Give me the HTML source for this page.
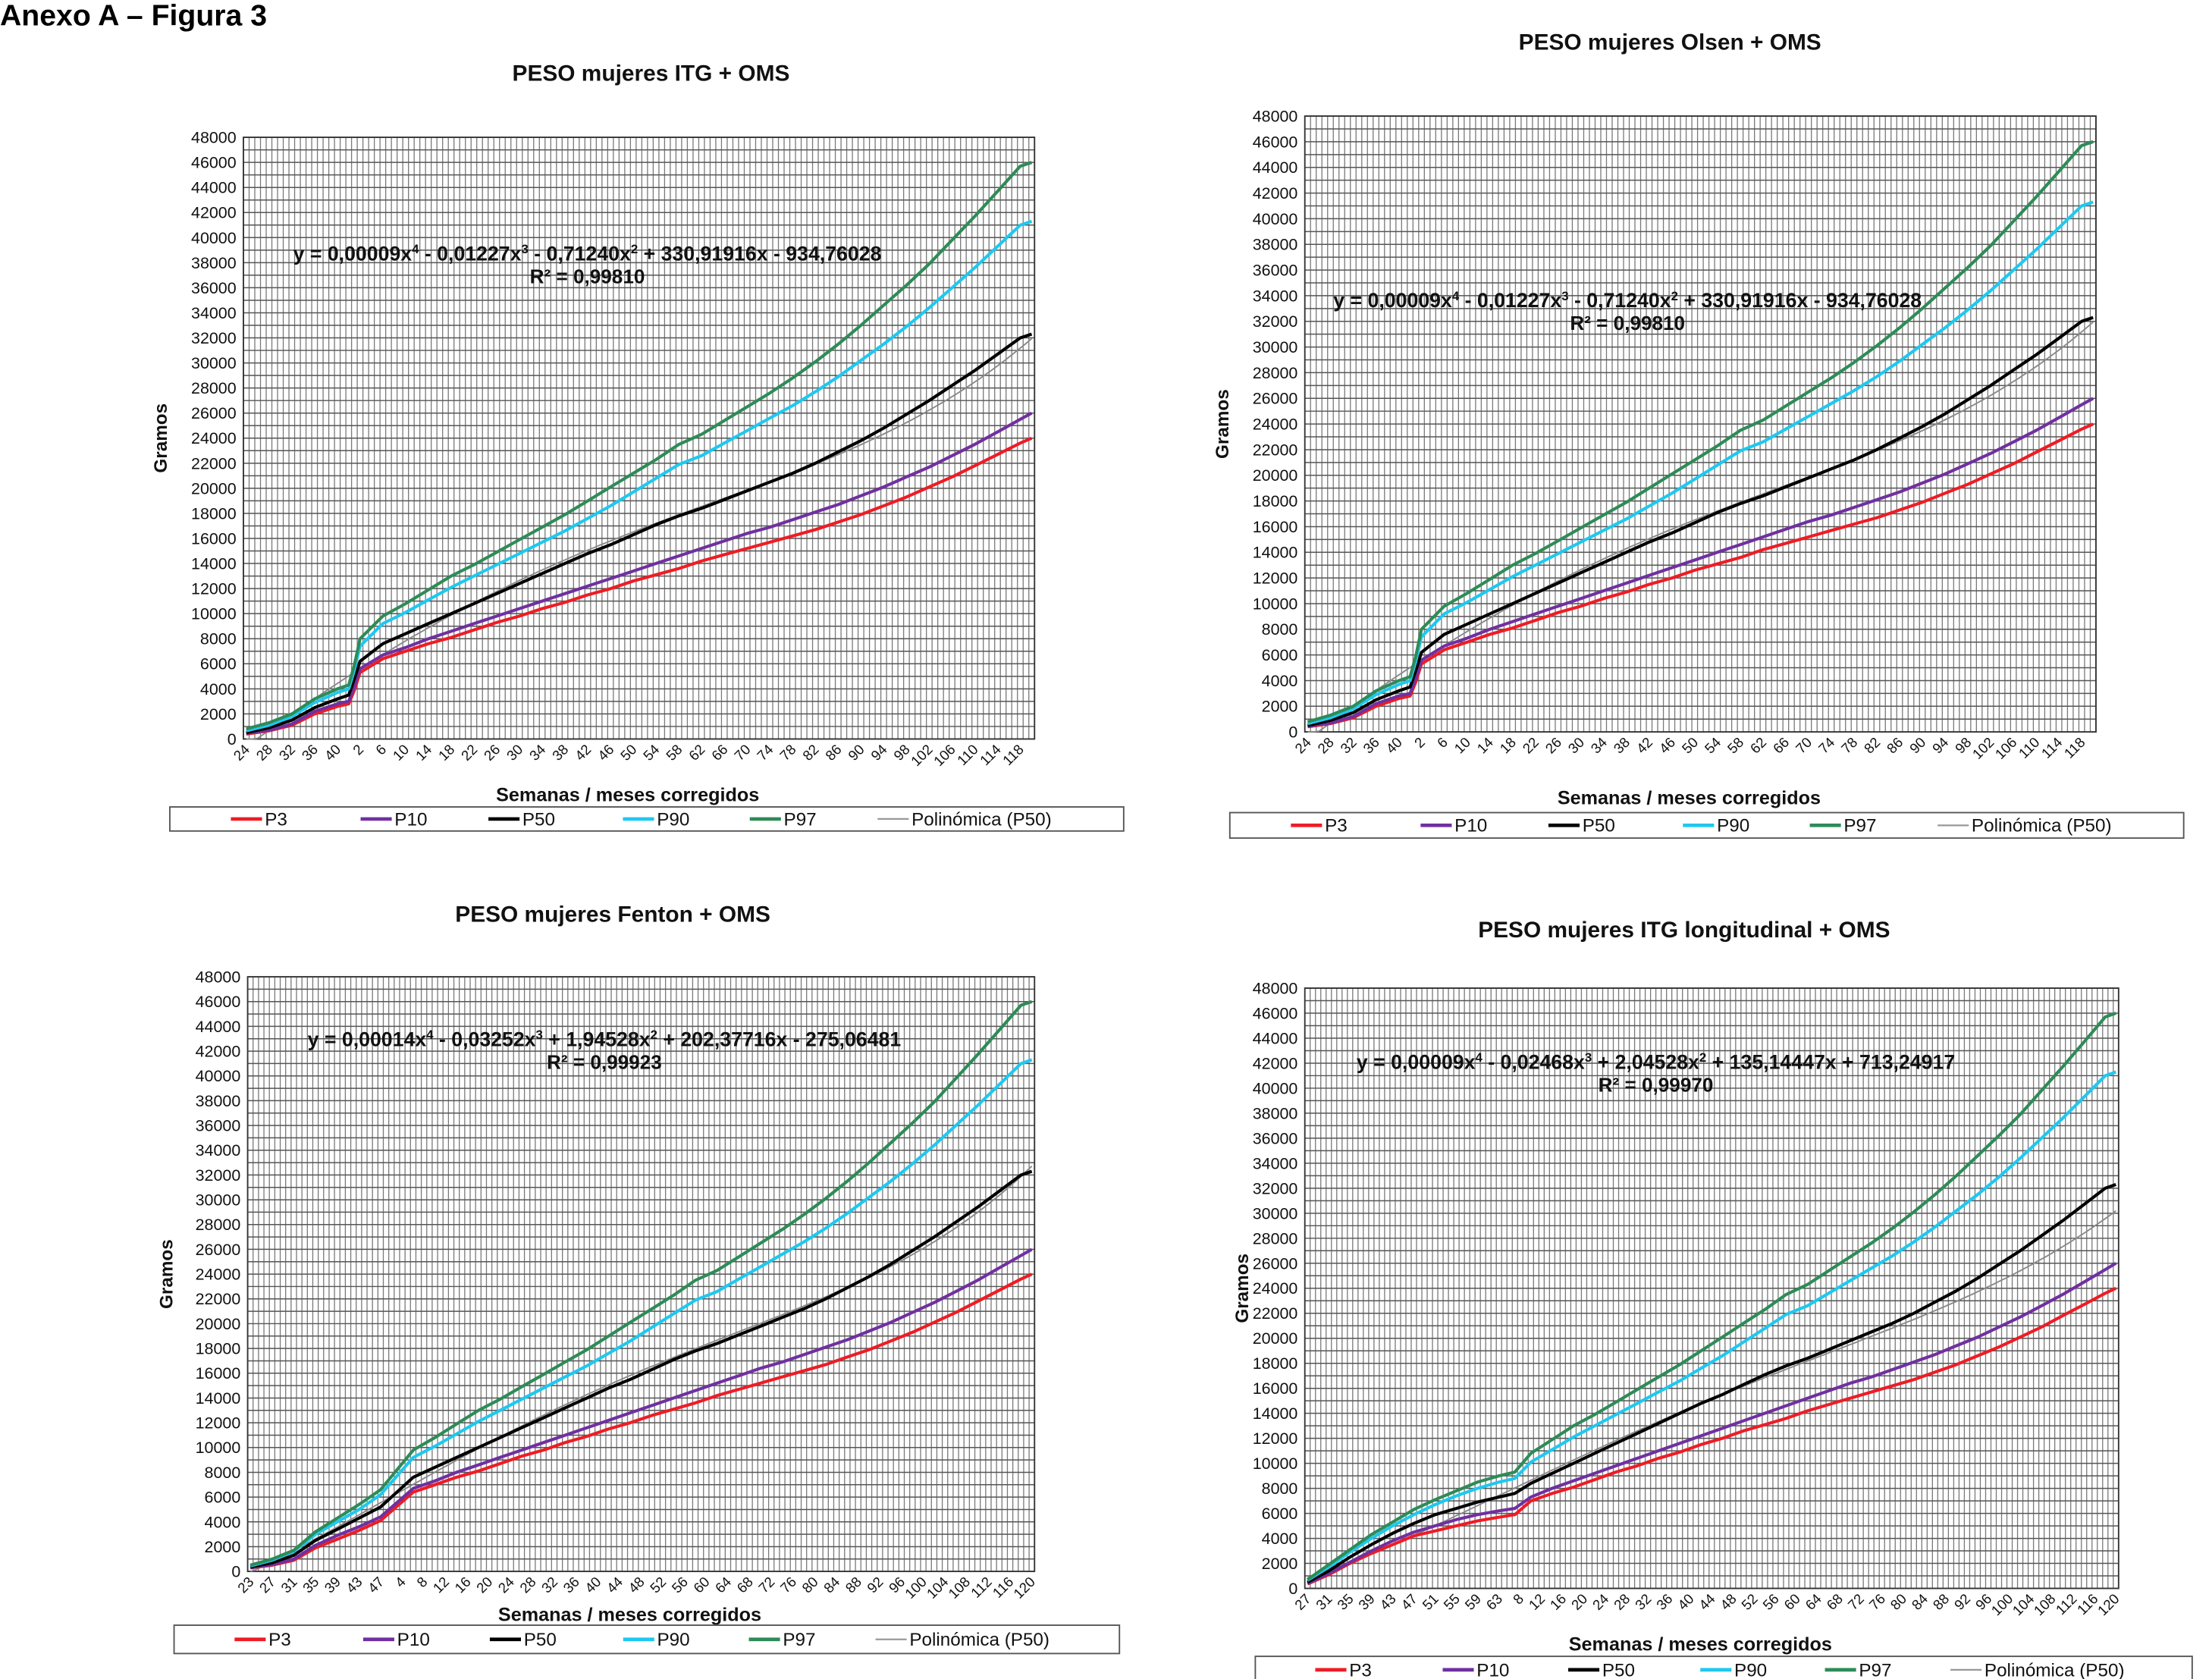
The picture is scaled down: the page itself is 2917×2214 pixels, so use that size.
<!DOCTYPE html>
<html><head><meta charset="utf-8"><style>
html,body{margin:0;padding:0;background:#fff}
svg{display:block}
text{font-family:"Liberation Sans",Arial,sans-serif}
</style></head><body>
<svg id="root" xmlns="http://www.w3.org/2000/svg" width="2917" height="2214" viewBox="0 0 1563 1186" preserveAspectRatio="none">
<rect width="1563" height="1186" fill="#fff"/>
<text x="0" y="18" font-size="21" font-weight="bold" fill="#000">Anexo A – Figura 3</text>
</svg>
<script>
// Shared WHO month data (months and values)
const monthKeys=[1,2,6,10,14,18,22,26,30,34,38,42,46,50,54,58,62,66,70,74,78,82,86,90,94,98,102,106,110,114,118,120];
const p3Months=[3900,5300,6400,7000,7600,8100,8700,9300,9800,10400,10900,11500,12000,12600,13100,13600,14200,14700,15200,15700,16200,16700,17300,17900,18600,19300,20100,20900,21800,22700,23600,24000];
const p10Months=[4200,5600,6700,7300,8000,8600,9200,9800,10400,11000,11600,12200,12800,13400,14000,14600,15200,15800,16400,16900,17500,18100,18700,19400,20100,20900,21700,22600,23500,24500,25500,26000];
const p50Months=[4800,6200,7600,8400,9200,10000,10800,11600,12400,13200,14000,14800,15500,16300,17100,17800,18400,19100,19800,20500,21200,22000,22900,23800,24800,25900,27000,28200,29400,30700,32000,32300];
const p90Months=[5500,7400,9200,10100,11100,12100,13000,13900,14800,15700,16600,17600,18600,19700,20800,21900,22600,23600,24600,25600,26600,27700,28900,30200,31500,32900,34400,36000,37600,39300,41000,41300];
const p97Months=[5900,8000,9800,10800,11900,13000,13900,14900,15900,16900,17900,19000,20100,21200,22300,23500,24300,25400,26500,27600,28800,30100,31500,33000,34600,36200,37900,39800,41700,43700,45700,46000];

// Chart 1 & 2 (ITG / Olsen) weeks 24..42
const itgWeeks=[24,28,32,36,40,42];
const itgP3=[400,650,1100,2000,2600,2800];
const itgP10=[450,700,1200,2200,2800,3000];
const itgP50=[500,900,1500,2500,3200,3500];
const itgP90=[650,1100,1800,2900,3700,4000];
const itgP97=[800,1300,2000,3200,4000,4300];
const itgPoly=[0.00009,-0.01227,-0.71240,330.91916,-934.76028];

// Chart 3 (Fenton) weeks 23..47
const fentonWeeks=[23,27,31,35,39,43,47];
const fentonP3=[280,500,900,1900,2600,3300,4100];
const fentonP10=[300,550,1000,2100,2900,3600,4400];
const fentonP50=[350,700,1300,2500,3400,4300,5200];
const fentonP90=[450,900,1600,3000,4000,5000,6200];
const fentonP97=[500,1000,1700,3200,4300,5400,6600];
const fentonPoly=[0.00014,-0.03252,1.94528,202.37716,-275.06481];

// Chart 4 (ITG longitudinal) weeks 27..66
const longWeeks=[27,31,35,39,43,47,51,55,59,63,66];
const longP3=[350,1100,2000,2800,3500,4200,4600,5000,5400,5700,5900];
const longP10=[400,1200,2100,3000,3800,4500,5000,5500,5900,6200,6400];
const longP50=[500,1400,2500,3500,4400,5200,5900,6400,6900,7300,7600];
const longP90=[650,1700,2900,4000,5000,5900,6700,7400,8000,8500,8800];
const longP97=[700,1900,3100,4300,5300,6300,7100,7800,8500,9000,9300];
const longPoly=[0.00009,-0.02468,2.04528,135.14447,713.24917];

const yTicks=[0,2000,4000,6000,8000,10000,12000,14000,16000,18000,20000,22000,24000,26000,28000,30000,32000,34000,36000,38000,40000,42000,44000,46000,48000];
const legendLabels=['P3','P10','P50','P90','P97','Polinómica (P50)'];
const colors=['#ee1c25','#7030a0','#000000','#1ec8f0','#2e8b57','#999999'];

const NS='http://www.w3.org/2000/svg';
const root=document.getElementById('root');
function mk(tag,attrs,parent){const e=document.createElementNS(NS,tag);for(const k in attrs)e.setAttribute(k,attrs[k]);(parent||root).appendChild(e);return e;}

function drawChart(c){
  const g=mk('g',{});
  
  
  const P=c.plot;
  const nCat=c.nWeeks+(120-c.monthStart+1);
  const xs=i=>P.x0+(i+0.5)*(P.x1-P.x0)/nCat;
  const ys=v=>P.y1-v/48000*(P.y1-P.y0);
  const wIdx=w=>w-c.firstWeek;
  const mIdx=m=>c.nWeeks+m-c.monthStart;
  const t=mk('text',{x:c.title[0],y:c.title[1],'text-anchor':'middle','font-size':16,'font-weight':'bold',fill:'#111'},g);
  t.textContent=c.titleText;
  
  
  const bg=mk('rect',{x:P.x0,y:P.y0,width:P.x1-P.x0,height:P.y1-P.y0,fill:'#fff',stroke:'none'},g);
  
  
  let d='';
  for(let i=0;i<=nCat;i++){const x=P.x0+i*(P.x1-P.x0)/nCat;d+='M'+x.toFixed(2)+' '+P.y0+'V'+P.y1;}
  const vg=mk('path',{d:d,stroke:'#7a7a7a','stroke-width':0.7,fill:'none'},g);
  
  
  d='';
  for(let v=0;v<=48000;v+=1000){const y=ys(v);d+='M'+P.x0+' '+y.toFixed(2)+'H'+P.x1;}
  const hg=mk('path',{d:d,stroke:'#555','stroke-width':0.8,fill:'none'},g);
  
  
  const bd=mk('rect',{x:P.x0,y:P.y0,width:P.x1-P.x0,height:P.y1-P.y0,fill:'none',stroke:'#333','stroke-width':1},g);
  
  
  yTicks.forEach(v=>{
    const tt=mk('text',{x:P.x0-5,y:ys(v)+4,'text-anchor':'end','font-size':11.5,fill:'#111'},g);
    tt.textContent=v;
    
    
  });
  for(let i=0;i<nCat;i+=4){
    const lab=i<c.nWeeks?(c.firstWeek+i):(c.monthStart+i-c.nWeeks);
    const x=xs(i)+3,y=P.y1+8;
    const tt=mk('text',{x:x,y:y,'text-anchor':'end','font-size':10,fill:'#111',transform:'rotate(-45 '+x+' '+y+')'},g);
    tt.textContent=lab;
    
    
  }
  const yl=mk('text',{x:c.ylab,y:(P.y0+P.y1)/2,'text-anchor':'middle','font-size':13,'font-weight':'bold',fill:'#111',transform:'rotate(-90 '+c.ylab+' '+(P.y0+P.y1)/2+')'},g);
  yl.textContent='Gramos';
  
  
  const xl=mk('text',{x:(P.x0+P.x1)/2-8,y:c.xtitle,'text-anchor':'middle','font-size':13.5,'font-weight':'bold',fill:'#111'},g);
  xl.textContent='Semanas / meses corregidos';
  
  
  // polynomial trend (under series)
  const pp=[];
  for(let i=0;i<nCat;i++){const x=i+1;const cf=c.poly;const v=cf[0]*x**4+cf[1]*x**3+cf[2]*x**2+cf[3]*x+cf[4];pp.push(xs(i).toFixed(1)+','+ys(Math.max(v,0)).toFixed(1));}
  const tr=mk('polyline',{points:pp.join(' '),fill:'none',stroke:'#888','stroke-width':1},g);
  
  
  const names=['p3','p10','p50','p90','p97'];
  const monthSets=[p3Months,p10Months,p50Months,p90Months,p97Months];
  c.series.forEach((wv,s)=>{
    const pts=[];
    c.weeks.forEach((w,k)=>pts.push([xs(wIdx(w)),ys(wv[k])]));
    monthKeys.forEach((m,k)=>{if(m>=c.monthStart&&m>=c.minMonth)pts.push([xs(mIdx(m)),ys(monthSets[s][k])]);});
    const pl=mk('polyline',{points:pts.map(p=>p[0].toFixed(1)+','+p[1].toFixed(1)).join(' '),fill:'none',stroke:colors[s],'stroke-width':2.2,'stroke-linejoin':'round'},g);
    
    
  });
  const e1=mk('text',{x:c.eq[0],y:c.eq[1],'text-anchor':'middle','font-size':14.3,'font-weight':'bold',fill:'#111'},g);
  e1.innerHTML=c.eqText;
  
  
  const e2=mk('text',{x:c.eq[0],y:c.eq[1]+16,'text-anchor':'middle','font-size':14,'font-weight':'bold',fill:'#111'},g);
  e2.textContent=c.r2;
  
  
  const L=c.legend;
  const lb=mk('rect',{x:L[0],y:L[1],width:L[2],height:L[3],fill:'#fff',stroke:'#555','stroke-width':1},g);
  
  
  const fr=[0.064,0.2,0.334,0.475,0.608,0.742];
  legendLabels.forEach((lab,k)=>{
    const lx=L[0]+fr[k]*L[2],ly=L[1]+L[3]/2;
    const ln=mk('line',{x1:lx,y1:ly,x2:lx+22,y2:ly,stroke:colors[k],'stroke-width':k===5?1.2:2.5},g);
    
    
    const lt=mk('text',{x:lx+24,y:ly+4.5,'font-size':13,fill:'#111'},g);
    lt.textContent=lab;
    
    
  });
}
const eqITG='y = 0,00009x<tspan dy="-5" font-size="9">4</tspan><tspan dy="5"> - 0,01227x</tspan><tspan dy="-5" font-size="9">3</tspan><tspan dy="5"> - 0,71240x</tspan><tspan dy="-5" font-size="9">2</tspan><tspan dy="5"> + 330,91916x - 934,76028</tspan>';
drawChart({name:'chart-itg',titleText:'PESO mujeres ITG + OMS',title:[460,57],plot:{x0:172,x1:731,y0:97,y1:522},ylab:118,xtitle:566,legend:[120,570,674,17],eq:[415,184],eqText:eqITG,r2:'R² = 0,99810',nWeeks:19,firstWeek:24,monthStart:1,minMonth:1,weeks:itgWeeks,series:[itgP3,itgP10,itgP50,itgP90,itgP97],poly:itgPoly});
drawChart({name:'chart-olsen',titleText:'PESO mujeres Olsen + OMS',title:[1180,35],plot:{x0:922,x1:1481,y0:82,y1:517},ylab:868,xtitle:568,legend:[869,574,674,18],eq:[1150,217],eqText:eqITG,r2:'R² = 0,99810',nWeeks:19,firstWeek:24,monthStart:1,minMonth:1,weeks:itgWeeks,series:[itgP3,itgP10,itgP50,itgP90,itgP97],poly:itgPoly});
drawChart({name:'chart-fenton',titleText:'PESO mujeres Fenton + OMS',title:[433,651],plot:{x0:175,x1:731,y0:690,y1:1110},ylab:122,xtitle:1145,legend:[123,1148,668,20],eq:[427,739],eqText:'y = 0,00014x<tspan dy="-5" font-size="9">4</tspan><tspan dy="5"> - 0,03252x</tspan><tspan dy="-5" font-size="9">3</tspan><tspan dy="5"> + 1,94528x</tspan><tspan dy="-5" font-size="9">2</tspan><tspan dy="5"> + 202,37716x - 275,06481</tspan>',r2:'R² = 0,99923',nWeeks:25,firstWeek:23,monthStart:1,minMonth:4,weeks:fentonWeeks,series:[fentonP3,fentonP10,fentonP50,fentonP90,fentonP97],poly:fentonPoly});
drawChart({name:'chart-itg-longitudinal',titleText:'PESO mujeres ITG longitudinal + OMS',title:[1190,662],plot:{x0:922,x1:1497,y0:698,y1:1122},ylab:882,xtitle:1166,legend:[887,1170,662,19],eq:[1170,755],eqText:'y = 0,00009x<tspan dy="-5" font-size="9">4</tspan><tspan dy="5"> - 0,02468x</tspan><tspan dy="-5" font-size="9">3</tspan><tspan dy="5"> + 2,04528x</tspan><tspan dy="-5" font-size="9">2</tspan><tspan dy="5"> + 135,14447x + 713,24917</tspan>',r2:'R² = 0,99970',nWeeks:40,firstWeek:27,monthStart:8,minMonth:8,weeks:longWeeks,series:[longP3,longP10,longP50,longP90,longP97],poly:longPoly});
</script>
</body></html>
